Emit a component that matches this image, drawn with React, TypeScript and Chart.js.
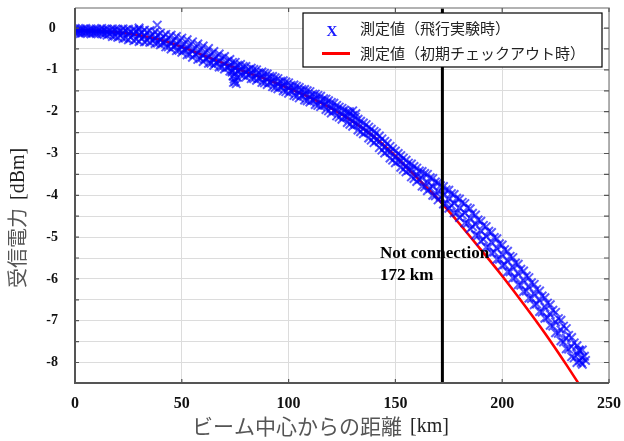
import React, { useEffect, useRef } from "react";
import { Chart, registerables } from "chart.js";
Chart.register(...registerables);

const flightKm = [0, 2.5, 5, 7.5, 10, 12.5, 15, 17.5, 20, 22.5, 25, 27.5, 30, 32.5, 35, 37.5, 40, 42.5, 45, 47.5, 50, 52.5, 55, 57.5, 60, 62.5, 65, 67.5, 70, 72.5, 75, 77.5, 80, 82.5, 85, 87.5, 90, 92.5, 95, 97.5, 100, 102.5, 105, 107.5, 110, 112.5, 115, 117.5, 120, 122.5, 125, 127.5, 130, 132.5, 135, 137.5, 140, 142.5, 145, 147.5, 150, 152.5, 155, 157.5, 160, 162.5, 165, 167.5, 170, 172.5, 175, 177.5, 180, 182.5, 185, 187.5, 190, 192.5, 195, 197.5, 200, 202.5, 205, 207.5, 210, 212.5, 215, 217.5, 220, 222.5, 225, 227.5, 230, 232.5, 235, 237.5];
const flightMid = [-0.07, -0.07, -0.08, -0.07, -0.08, -0.08, -0.09, -0.09, -0.1, -0.11, -0.12, -0.14, -0.16, -0.19, -0.22, -0.25, -0.28, -0.32, -0.36, -0.4, -0.45, -0.5, -0.55, -0.6, -0.65, -0.7, -0.76, -0.8, -0.85, -0.9, -0.95, -1.0, -1.05, -1.08, -1.12, -1.17, -1.22, -1.28, -1.33, -1.38, -1.43, -1.48, -1.54, -1.59, -1.64, -1.7, -1.75, -1.82, -1.9, -1.97, -2.05, -2.13, -2.22, -2.31, -2.4, -2.5, -2.6, -2.72, -2.85, -2.97, -3.08, -3.19, -3.3, -3.4, -3.5, -3.59, -3.68, -3.79, -3.9, -3.99, -4.08, -4.19, -4.3, -4.42, -4.55, -4.7, -4.85, -4.98, -5.12, -5.27, -5.42, -5.57, -5.72, -5.88, -6.04, -6.2, -6.36, -6.52, -6.68, -6.85, -7.03, -7.22, -7.42, -7.62, -7.8, -7.88];
const flightHi = [-0.01, -0.02, -0.01, -0.02, -0.02, -0.01, -0.02, -0.02, -0.03, -0.02, -0.03, -0.04, -0.04, -0.05, -0.06, -0.09, -0.12, -0.15, -0.17, -0.2, -0.24, -0.28, -0.33, -0.38, -0.43, -0.49, -0.56, -0.62, -0.68, -0.75, -0.82, -0.87, -0.92, -0.96, -1.0, -1.05, -1.1, -1.16, -1.21, -1.26, -1.31, -1.36, -1.42, -1.47, -1.52, -1.58, -1.63, -1.7, -1.78, -1.85, -1.92, -2.0, -2.09, -2.18, -2.27, -2.37, -2.47, -2.58, -2.71, -2.83, -2.94, -3.05, -3.16, -3.25, -3.35, -3.43, -3.5, -3.6, -3.7, -3.79, -3.88, -3.98, -4.09, -4.2, -4.32, -4.47, -4.62, -4.75, -4.89, -5.04, -5.19, -5.34, -5.49, -5.65, -5.81, -5.97, -6.13, -6.29, -6.45, -6.62, -6.8, -6.99, -7.19, -7.4, -7.6, -7.7];
const flightLo = [-0.12, -0.13, -0.12, -0.14, -0.13, -0.14, -0.17, -0.2, -0.22, -0.25, -0.28, -0.3, -0.32, -0.33, -0.34, -0.37, -0.4, -0.45, -0.5, -0.54, -0.58, -0.64, -0.7, -0.75, -0.8, -0.84, -0.89, -0.93, -0.98, -1.03, -1.08, -1.12, -1.17, -1.21, -1.25, -1.3, -1.35, -1.4, -1.45, -1.5, -1.56, -1.61, -1.67, -1.72, -1.77, -1.83, -1.88, -1.95, -2.03, -2.1, -2.18, -2.26, -2.35, -2.44, -2.53, -2.63, -2.74, -2.86, -2.99, -3.11, -3.22, -3.33, -3.44, -3.56, -3.67, -3.78, -3.89, -4.0, -4.11, -4.21, -4.31, -4.42, -4.53, -4.66, -4.8, -4.95, -5.1, -5.24, -5.38, -5.53, -5.68, -5.83, -5.98, -6.14, -6.3, -6.46, -6.62, -6.78, -6.94, -7.11, -7.29, -7.48, -7.67, -7.86, -8.0, -8.04];
// in-between readings (staggered columns of the band)
const flightKm2 = [1.2, 6.3, 11.4, 16.2, 21.3, 26.1, 31.2, 36.4, 41.3, 46.2, 51.1, 56.3, 61.2, 66.1, 71.4, 76.2, 81.3, 86.1, 91.2, 96.3, 101.1, 106.2, 111.3, 116.4, 121.2, 126.1, 131.2, 136.3, 141.1, 146.2, 151.3, 156.1, 161.2, 166.3, 171.1, 176.2, 181.3, 186.1, 191.2, 196.3, 201.1, 206.2, 211.3, 216.1, 221.2, 226.3, 231.1, 236.2];
const flightDb2a = [-0.04, -0.05, -0.05, -0.06, -0.07, -0.09, -0.11, -0.16, -0.21, -0.29, -0.38, -0.48, -0.58, -0.69, -0.79, -0.89, -0.99, -1.07, -1.16, -1.27, -1.37, -1.47, -1.58, -1.69, -1.8, -1.96, -2.13, -2.31, -2.51, -2.76, -3.0, -3.23, -3.42, -3.58, -3.77, -3.96, -4.17, -4.43, -4.72, -5.01, -5.3, -5.62, -5.93, -6.25, -6.58, -6.95, -7.35, -7.72];
const flightDb2b = [-0.1, -0.11, -0.11, -0.14, -0.18, -0.22, -0.25, -0.3, -0.35, -0.44, -0.52, -0.63, -0.73, -0.83, -0.94, -1.03, -1.12, -1.2, -1.3, -1.41, -1.5, -1.61, -1.72, -1.84, -1.98, -2.12, -2.3, -2.48, -2.69, -2.94, -3.18, -3.4, -3.62, -3.83, -4.04, -4.24, -4.47, -4.75, -5.05, -5.36, -5.66, -5.97, -6.29, -6.6, -6.93, -7.3, -7.68, -7.95];
const flightKm3 = [3.7, 8.7, 13.7, 18.7, 23.7, 28.7, 33.7, 38.7, 43.7, 48.7, 53.7, 58.7, 63.7, 68.7, 73.7, 78.7, 83.7, 88.7, 93.7, 98.7, 103.7, 108.7, 113.7, 118.7, 123.7, 128.7, 133.7, 138.7, 143.7, 148.7, 153.7, 158.7, 163.7, 168.7, 173.7, 178.7, 183.7, 188.7, 193.7, 198.7, 203.7, 208.7, 213.7, 218.7, 223.7, 228.7, 233.7];
const flightDb3a = [-0.03, -0.04, -0.04, -0.04, -0.05, -0.07, -0.1, -0.17, -0.24, -0.32, -0.42, -0.52, -0.63, -0.72, -0.82, -0.92, -0.99, -1.08, -1.19, -1.29, -1.39, -1.5, -1.61, -1.74, -1.89, -2.05, -2.23, -2.42, -2.65, -2.89, -3.11, -3.31, -3.48, -3.68, -3.87, -4.07, -4.3, -4.59, -4.86, -5.16, -5.46, -5.77, -6.09, -6.41, -6.75, -7.13, -7.53];
const flightDb3b = [-0.11, -0.12, -0.15, -0.19, -0.24, -0.27, -0.3, -0.36, -0.45, -0.53, -0.63, -0.73, -0.84, -0.93, -1.02, -1.13, -1.21, -1.31, -1.42, -1.52, -1.63, -1.74, -1.85, -1.98, -2.13, -2.3, -2.48, -2.68, -2.92, -3.16, -3.38, -3.6, -3.8, -4.01, -4.2, -4.42, -4.67, -4.96, -5.24, -5.53, -5.83, -6.15, -6.47, -6.79, -7.13, -7.51, -7.89];
// isolated points (stray cross, drip near 75 km, blob near 130 km, end cluster)
const extraKm = [38.5, 30, 73.5, 74, 74.5, 75, 75.5, 74.2, 76, 128.5, 130, 131.5, 236, 237, 238.5, 239];
const extraDb = [0.07, 0.0, -1.05, -1.15, -1.22, -1.28, -1.33, -1.3, -1.18, -2.0, -1.98, -2.05, -7.7, -8.0, -7.85, -7.95];

// 測定値（初期チェックアウト時）
const checkoutKm = [0, 10, 20, 30, 40, 50, 60, 70, 80, 90, 100, 110, 120, 130, 140, 150, 155, 160, 165, 170, 175, 180, 190, 200, 210, 220, 230, 237];
const checkoutDb = [-0.05, -0.07, -0.1, -0.17, -0.28, -0.45, -0.65, -0.85, -1.05, -1.23, -1.44, -1.66, -1.92, -2.23, -2.6, -3.06, -3.32, -3.57, -3.83, -4.09, -4.38, -4.68, -5.3, -5.93, -6.6, -7.3, -8.05, -8.6];

const limitKm = 172;
const limitText = ["Not connection", "172 km"];
const xTicks = [0, 50, 100, 150, 200, 250];
const yTicks = [0, -0.5, -1, -1.5, -2, -2.5, -3, -3.5, -4, -4.5, -5, -5.5, -6, -6.5, -7, -7.5, -8];
const legendLabels = ["測定値（飛行実験時）", "測定値（初期チェックアウト時）"];
const xTitleJa = "ビーム中心からの距離";
const xTitleUnit = "[km]";
const yTitleJa = "受信電力";
const yTitleUnit = "[dBm]";

const SERIF = "'Liberation Serif', 'Times New Roman', serif";
const CJK = "'Noto Sans CJK JP', sans-serif";

export default function App() {
  const ref = useRef<HTMLCanvasElement>(null);
  useEffect(() => {
    const flightPts: { x: number; y: number }[] = [];
    flightKm.forEach((k, i) => {
      flightPts.push({ x: k, y: flightHi[i] }, { x: k, y: flightMid[i] }, { x: k, y: flightLo[i] });
    });
    flightKm2.forEach((k, i) => {
      flightPts.push({ x: k, y: flightDb2a[i] }, { x: k, y: flightDb2b[i] });
    });
    flightKm3.forEach((k, i) => {
      flightPts.push({ x: k, y: flightDb3a[i] }, { x: k, y: flightDb3b[i] });
    });
    extraKm.forEach((k, i) => flightPts.push({ x: k, y: extraDb[i] }));
    const checkoutPts = checkoutKm.map((k, i) => ({ x: k, y: checkoutDb[i] }));

    const decor = {
      id: "decor",
      beforeDraw(chart: any) {
        const c = chart.ctx;
        c.save();
        c.fillStyle = "#fff";
        c.fillRect(0, 0, chart.width, chart.height);
        c.restore();
      },
      afterDatasetsDraw(chart: any) {
        const c = chart.ctx;
        const a = chart.chartArea;
        const xs = chart.scales.x;
        const ys = chart.scales.y;
        c.save();
        // vertical limit line
        const lx = xs.getPixelForValue(limitKm);
        c.strokeStyle = "#000";
        c.lineWidth = 3;
        c.beginPath();
        c.moveTo(lx, a.top);
        c.lineTo(lx, a.bottom);
        c.stroke();
        // frame
        c.lineWidth = 1.5;
        c.strokeStyle = "#999";
        c.beginPath();
        c.moveTo(a.left, a.top);
        c.lineTo(a.right, a.top);
        c.lineTo(a.right, a.bottom);
        c.stroke();
        c.lineWidth = 2;
        c.strokeStyle = "#555";
        c.beginPath();
        c.moveTo(a.left, a.top);
        c.lineTo(a.left, a.bottom);
        c.lineTo(a.right, a.bottom);
        c.stroke();
        // inward ticks
        c.lineWidth = 1.2;
        c.strokeStyle = "#555";
        c.beginPath();
        yTicks.forEach((v) => {
          const py = ys.getPixelForValue(v);
          c.moveTo(a.left, py);
          c.lineTo(a.left + 4, py);
          c.moveTo(a.right, py);
          c.lineTo(a.right - 5, py);
        });
        xTicks.forEach((v) => {
          const px = xs.getPixelForValue(v);
          c.moveTo(px, a.bottom);
          c.lineTo(px, a.bottom - 4);
          c.moveTo(px, a.top);
          c.lineTo(px, a.top + 4);
        });
        c.stroke();
        // annotation text
        c.fillStyle = "#000";
        c.font = "bold 17px " + SERIF;
        c.textAlign = "left";
        c.textBaseline = "middle";
        const tx = xs.getPixelForValue(142.8);
        c.fillText(limitText[0], tx, ys.getPixelForValue(-5.4));
        c.fillText(limitText[1], tx, ys.getPixelForValue(-5.93));
        // legend
        const bx = a.left + 228;
        const by = a.top + 5;
        const bw = 299;
        const bh = 54;
        c.fillStyle = "#fff";
        c.fillRect(bx, by, bw, bh);
        c.strokeStyle = "#000";
        c.lineWidth = 1.2;
        c.strokeRect(bx, by, bw, bh);
        c.fillStyle = "#1a1aff";
        c.font = "bold 15px " + SERIF;
        c.textAlign = "center";
        c.fillText("X", bx + 29, by + 19);
        c.strokeStyle = "#ff0000";
        c.lineWidth = 3;
        c.beginPath();
        c.moveTo(bx + 19, by + 40.5);
        c.lineTo(bx + 47, by + 40.5);
        c.stroke();
        c.fillStyle = "#222";
        c.font = "15px " + CJK;
        c.textAlign = "left";
        c.fillText(legendLabels[0], bx + 57, by + 15);
        c.fillText(legendLabels[1], bx + 57, by + 40);
        // x title
        c.fillStyle = "#555";
        c.font = "21px " + CJK;
        c.textBaseline = "middle";
        c.fillText(xTitleJa, 192, 426);
        const jw = c.measureText(xTitleJa).width;
        c.fillStyle = "#222";
        c.font = "20px " + SERIF;
        c.fillText(xTitleUnit, 192 + jw + 8, 427);
        // y title
        c.translate(17.5, 288);
        c.rotate(-Math.PI / 2);
        c.fillStyle = "#555";
        c.font = "20px " + CJK;
        c.fillText(yTitleJa, 0, 0);
        const yw = c.measureText(yTitleJa).width;
        c.fillStyle = "#222";
        c.font = "20px " + SERIF;
        c.fillText(yTitleUnit, yw + 8, 1);
        c.restore();
      },
    };

    const chart = new Chart(ref.current as HTMLCanvasElement, {
      type: "scatter",
      data: {
        datasets: [
          {
            label: legendLabels[1],
            data: checkoutPts,
            showLine: true,
            pointRadius: 0,
            borderColor: "#ff0000",
            borderWidth: 2.6,
            cubicInterpolationMode: "monotone",
            order: 2,
          },
          {
            label: legendLabels[0],
            data: flightPts,
            pointStyle: "crossRot",
            pointRadius: 6,
            pointBorderWidth: 2,
            borderColor: "rgba(0,0,255,0.65)",
            backgroundColor: "rgba(0,0,255,0.65)",
            order: 1,
          },
        ],
      },
      options: {
        animation: false,
        responsive: false,
        events: [],
        layout: { padding: { top: 7, right: 15, left: 0, bottom: 0 } },
        plugins: { legend: { display: false }, tooltip: { enabled: false } },
        scales: {
          x: {
            type: "linear",
            min: 0,
            max: 250,
            afterBuildTicks: (s: any) => {
              s.ticks = xTicks.map((v) => ({ value: v }));
            },
            afterFit: (s: any) => {
              s.height = 58;
              s.paddingLeft = 0;
              s.paddingRight = 0;
              s.paddingTop = 0;
              s.paddingBottom = 0;
            },
            ticks: {
              font: { family: SERIF, size: 16, weight: "bold" },
              color: "#111",
              padding: 11,
              maxRotation: 0,
            },
            grid: { color: "#dcdcdc", lineWidth: 1, drawTicks: false },
            border: { display: false },
          },
          y: {
            type: "linear",
            min: -8.49,
            max: 0.48,
            afterBuildTicks: (s: any) => {
              s.ticks = yTicks.map((v) => ({ value: v }));
            },
            afterFit: (s: any) => {
              s.width = 75;
              s.paddingLeft = 0;
              s.paddingRight = 0;
              s.paddingTop = 0;
              s.paddingBottom = 0;
            },
            ticks: {
              font: { family: SERIF, size: 14, weight: "bold" },
              color: "#111",
              padding: 17,
              crossAlign: "center",
              callback: (v: any) => (Number.isInteger(v) ? String(v) : ""),
            },
            grid: { color: "#dcdcdc", lineWidth: 1, drawTicks: false },
            border: { display: false },
          },
        },
      },
      plugins: [decor],
    } as any);
    return () => chart.destroy();
  }, []);
  return (
    <div style={{ position: "fixed", left: 0, top: 0, width: 624, height: 441, background: "#fff" }}>
      <canvas ref={ref} width={624} height={441} style={{ display: "block" }} />
    </div>
  );
}
